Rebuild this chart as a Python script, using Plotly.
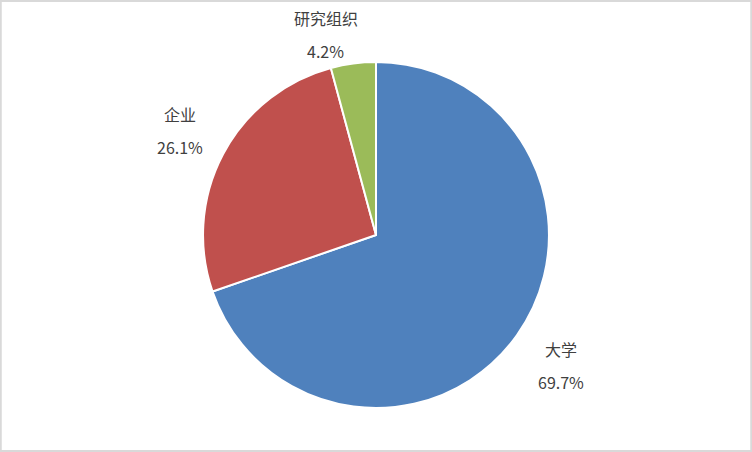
import math
import plotly.graph_objects as go

labels = ["大学", "企业", "研究组织"]
values = [69.7, 26.1, 4.2]
colors = ["#4f81bd", "#c0504d", "#9bbb59"]

# how far out each label sits (in pie radii) and a small angular nudge (degrees)
label_dist = [1.31, 1.28, 1.19]
label_nudge = [0, 0, -6.5]

W, H = 752, 452
dom_x = [0.27, 0.73]
dom_y = [0.0973, 0.8628]

fig = go.Figure(go.Pie(
    labels=labels,
    values=values,
    sort=False,
    direction="clockwise",
    rotation=0,
    marker=dict(colors=colors, line=dict(color="white", width=2)),
    textinfo="none",
    domain=dict(x=dom_x, y=dom_y),
    showlegend=False,
    hoverinfo="label+percent",
))

# labels placed outside the slices, at each slice's mid angle
cx = (dom_x[0] + dom_x[1]) / 2 * W
cy = (dom_y[0] + dom_y[1]) / 2 * H
r = (dom_y[1] - dom_y[0]) * H / 2
total = sum(values)
start = 0.0
font = dict(family="Noto Sans CJK SC, Microsoft YaHei, sans-serif", size=16, color="#404040")
for lab, v, d, n in zip(labels, values, label_dist, label_nudge):
    mid = math.radians((start + v / 2) / total * 360 + n)
    start += v
    px = cx + d * r * math.sin(mid)
    py = cy + d * r * math.cos(mid)
    fig.add_annotation(x=px / W, y=py / H, xref="paper", yref="paper", text=lab,
                       xanchor="center", yanchor="middle",
                       showarrow=False, font=font, yshift=17)
    fig.add_annotation(x=px / W, y=py / H, xref="paper", yref="paper",
                       text=f"{v / total * 100:.1f}%", xanchor="center", yanchor="middle",
                       showarrow=False, font=font, yshift=-16)

# light grey frame round the chart area
fig.add_shape(type="rect", xref="paper", yref="paper", x0=0.001, y0=0.002, x1=0.999, y1=0.998,
              line=dict(color="#d9d9d9", width=2), fillcolor="rgba(0,0,0,0)")

fig.update_layout(
    width=W, height=H,
    margin=dict(l=0, r=0, t=0, b=0),
    paper_bgcolor="white",
    plot_bgcolor="white",
)

fig.write_html("out.html", config={"displayModeBar": False},
               post_script="document.body.style.margin='0';")
